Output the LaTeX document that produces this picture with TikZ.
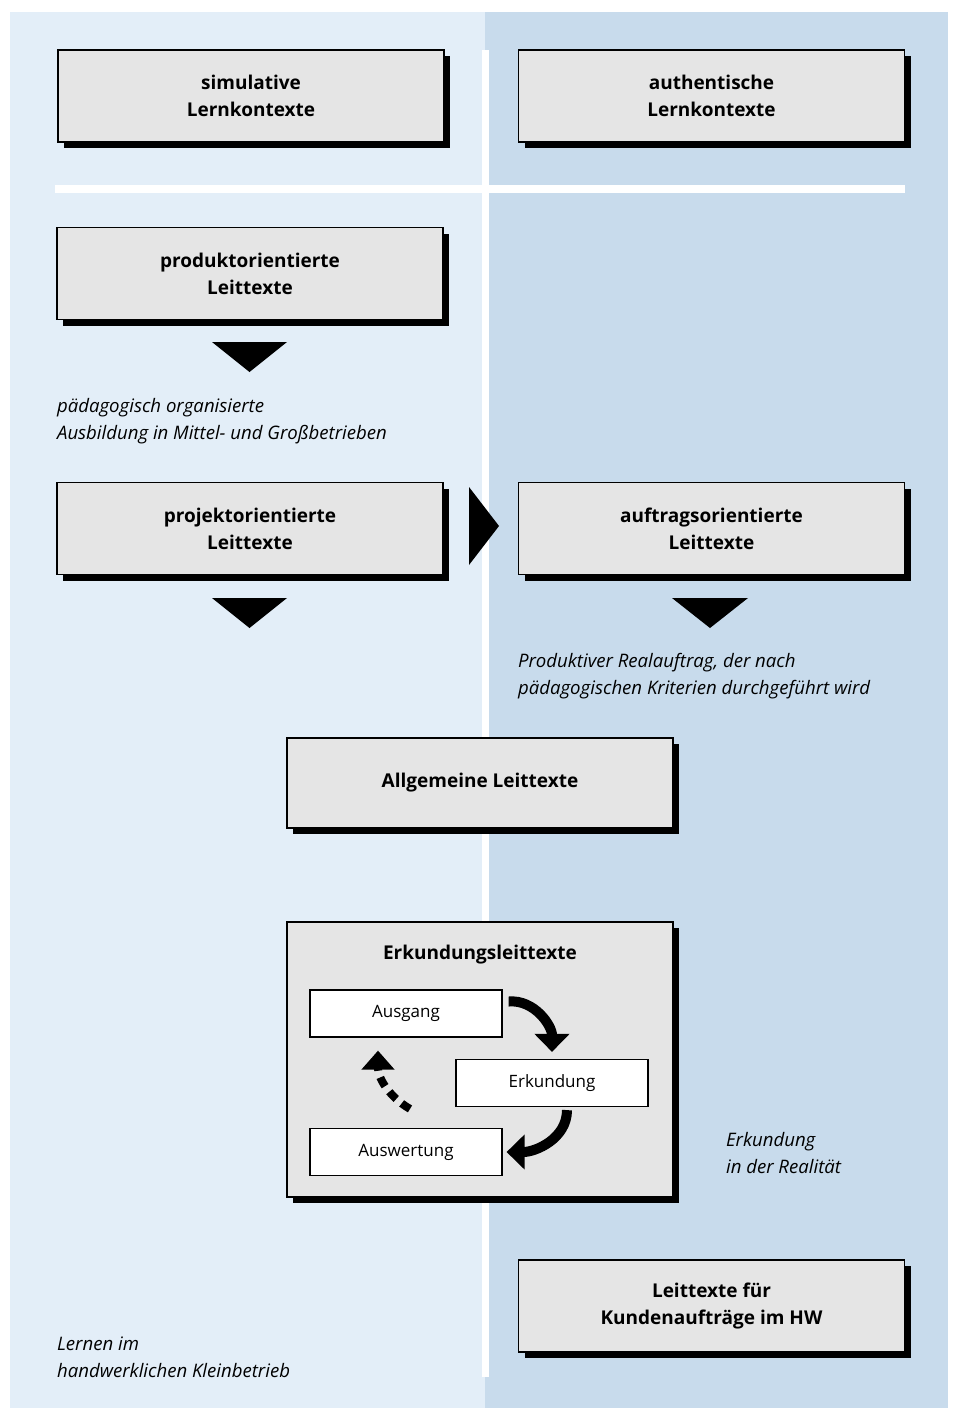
\documentclass[tikz,border=0pt]{standalone}
\usepackage{fontspec}
\setmainfont{Open Sans}
\usepackage{tikz}
\usetikzlibrary{arrows.meta, positioning, shadows, calc}
\usepackage{xcolor}
\definecolor{leftpanel}{HTML}{E3EEF8}
\definecolor{rightpanel}{HTML}{C8DBEC}
\definecolor{boxgray}{HTML}{E5E5E5}

\tikzset{
  lbox/.style={draw=black, line width=0.7pt, fill=boxgray, minimum width=193pt,
    minimum height=46pt, align=center, font=\fontsize{9.5}{13.5}\selectfont\bfseries,
    drop shadow={shadow xshift=3pt, shadow yshift=-3pt, fill=black, opacity=1}},
  sbox/.style={draw=black, line width=0.6pt, fill=white, minimum width=96pt,
    minimum height=23.5pt, font=\fontsize{8.5}{10}\selectfont},
  note/.style={anchor=west, align=left, font=\fontsize{9.3}{13.5}\selectfont\itshape},
  bigarrow/.style={line width=5pt, -{Triangle[width=17pt, length=9pt]}},
  downtri/.style={fill=black}
}

\begin{document}
\begin{tikzpicture}[x=0.5pt, y=-0.5pt]

  \useasboundingbox (0,0) rectangle (955,1408);

  % Background panels
  \fill[white] (0,0) rectangle (955,1408);
  \fill[leftpanel] (10,12) rectangle (485,1408);
  \fill[rightpanel] (485,12) rectangle (948,1408);
  \fill[white] (482,50) rectangle (489,1377);
  \fill[white] (55,185) rectangle (905,193);

  % Context boxes
  \node[lbox] (simul) at (251,96) {simulative\\Lernkontexte};
  \node[lbox] (authen) at (711.5,96) {authentische\\Lernkontexte};

  % Leittexte
  \node[lbox] (produkt) at (250,273.5) {produktorientierte\\Leittexte};
  \fill[downtri] (212,342) -- (287,342) -- (249.5,372) -- cycle;
  \node[note] (paed) at (50,421.5) {pädagogisch organisierte\\Ausbildung in Mittel- und Großbetrieben};

  \node[lbox] (projekt) at (250,528.5) {projektorientierte\\Leittexte};
  \node[lbox] (auftrag) at (711.5,528.5) {auftragsorientierte\\Leittexte};
  \fill[downtri] (469,487) -- (499,526) -- (469,565) -- cycle;
  \fill[downtri] (212,598) -- (287,598) -- (249.5,628) -- cycle;
  \fill[downtri] (672,598) -- (748,598) -- (710,628) -- cycle;
  \node[note] (real) at (511,676.5) {Produktiver Realauftrag, der nach\\pädagogischen Kriterien durchgeführt wird};

  \node[lbox, minimum height=45pt] (allg) at (480,783) {Allgemeine Leittexte};

  % Erkundungsleittexte
  \node[lbox, minimum height=137.5pt] (erkbox) at (480,1059.5) {};
  \node[font=\fontsize{9.5}{13.5}\selectfont\bfseries] (erktitle) at (480,955) {Erkundungsleittexte};
  \node[sbox] (ausgang) at (406,1013.5) {Ausgang};
  \node[sbox] (erkundung) at (552,1083) {Erkundung};
  \node[sbox] (auswertung) at (406,1152) {Auswertung};

  \draw[bigarrow] ([xshift=3pt, yshift=6pt]ausgang.east) to[out=5, in=90]
    ([yshift=3.5pt]erkundung.north);
  \draw[bigarrow] ([xshift=7.5pt, yshift=-1.5pt]erkundung.south) to[out=-90, in=0]
    ([xshift=2pt]auswertung.east);
  \draw[bigarrow, line width=4pt, dash pattern=on 5pt off 3.5pt,
    -{Triangle[width=16pt, length=9.5pt]}]
    ([xshift=2pt, yshift=9.5pt]auswertung.north) to[out=150, in=-90]
    ([xshift=-14pt, yshift=-6.5pt]ausgang.south);

  \node[note] (realit) at (719,1153.5) {Erkundung\\in der Realität};

  \node[lbox] (kunden) at (711.5,1306) {Leittexte für\\Kundenaufträge im HW};
  \node[note] (klein) at (50,1357.5) {Lernen im\\handwerklichen Kleinbetrieb};

\end{tikzpicture}
\end{document}
